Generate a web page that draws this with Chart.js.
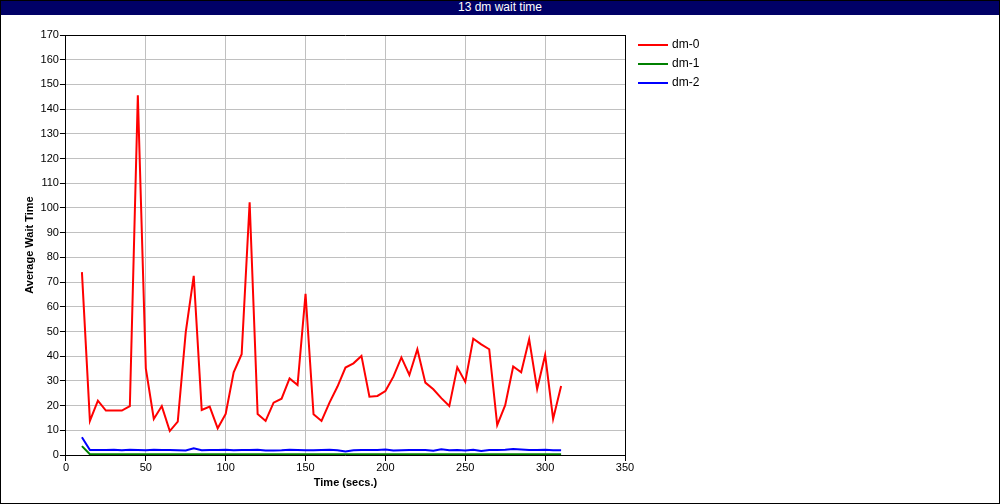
<!DOCTYPE html>
<html>
<head>
<meta charset="utf-8">
<script src="https://cdn.jsdelivr.net/npm/chart.js@4.4.1/dist/chart.umd.min.js"></script>
<style>
  html, body { margin: 0; padding: 0; background: #fff; }
  #wrap { position: relative; width: 1000px; height: 504px; overflow: hidden; background: #fff; }
  #c { position: absolute; left: 0; top: 0; }
  #title { position: absolute; left: 0; top: 0; width: 1000px; height: 15px; background: #000066; color: #fff;
           font: 12px "Liberation Sans", Arial, sans-serif; line-height: 15px; text-align: center; white-space: nowrap; }
  #frame { position: absolute; left: 0; top: 0; width: 1000px; height: 504px; box-sizing: border-box; border: 1px solid #000; pointer-events: none; }
  #legend { position: absolute; left: 638px; top: 35px; font: 12px "Liberation Sans", Arial, sans-serif; color: #000; }
  #legend .item { height: 19px; line-height: 19px; display: flex; align-items: center; white-space: nowrap; }
  #legend .swatch { width: 30px; height: 2px; margin-right: 4px; }
</style>
</head>
<body>
<div id="wrap">
  <canvas id="c" width="1000" height="504"></canvas>
  <div id="title"></div>
  <div id="legend"></div>
  <div id="frame"></div>
</div>
<script>
const chartTitle = '13 dm wait time';
const xTitle = 'Time (secs.)';
const yTitle = 'Average Wait Time';
const seriesNames = ['dm-0', 'dm-1', 'dm-2'];
const seriesColors = ['#ff0000', '#008000', '#0000ff'];

const times = [10, 15, 20, 25, 30, 35, 40, 45, 50, 55, 60, 65, 70, 75, 80, 85, 90, 95, 100, 105,
  110, 115, 120, 125, 130, 135, 140, 145, 150, 155, 160, 165, 170, 175, 180, 185, 190, 195, 200, 205,
  210, 215, 220, 225, 230, 235, 240, 245, 250, 255, 260, 265, 270, 275, 280, 285, 290, 295, 300, 305, 310];

const dm0 = [74.0, 13.8, 22.0, 18.0, 18.0, 18.0, 19.8, 145.6, 35.1, 14.6, 19.8, 9.7, 13.5, 49.7, 72.5, 18.2, 19.6, 10.8, 16.6, 33.5,
  40.8, 102.3, 16.6, 13.8, 21.2, 22.8, 31.0, 28.3, 65.2, 16.5, 13.8, 21.2, 27.7, 35.4, 37.1, 40.1, 23.6, 23.9, 25.9, 31.7,
  39.5, 32.4, 42.8, 29.3, 26.6, 23.0, 19.8, 35.5, 29.6, 47.1, 44.8, 42.8, 12.1, 20.2, 35.8, 33.5, 46.8, 26.7, 40.5, 14.6, 27.9];

const dm1 = [3.6, 0.3, 0.3, 0.3, 0.3, 0.3, 0.3, 0.3, 0.3, 0.3, 0.3, 0.3, 0.3, 0.3, 0.3, 0.3, 0.3, 0.3, 0.3, 0.3,
  0.3, 0.3, 0.3, 0.3, 0.3, 0.3, 0.3, 0.3, 0.3, 0.3, 0.3, 0.3, 0.3, 0.3, 0.3, 0.3, 0.3, 0.3, 0.3, 0.3,
  0.3, 0.3, 0.3, 0.3, 0.3, 0.3, 0.3, 0.3, 0.3, 0.3, 0.3, 0.3, 0.3, 0.3, 0.3, 0.3, 0.3, 0.3, 0.3, 0.3, 0.3];

const dm2 = [7.2, 2.0, 2.0, 2.0, 2.1, 1.9, 2.1, 2.0, 1.9, 2.1, 2.0, 2.0, 1.9, 1.8, 2.7, 1.9, 2.0, 2.0, 2.1, 1.9,
  2.0, 2.0, 2.1, 1.8, 1.8, 1.9, 2.1, 2.0, 1.9, 1.9, 2.0, 2.1, 1.9, 1.4, 1.9, 2.0, 2.0, 2.0, 2.2, 1.8,
  1.9, 2.0, 2.0, 2.0, 1.7, 2.3, 1.9, 2.0, 1.8, 2.1, 1.6, 2.0, 2.0, 2.1, 2.4, 2.2, 2.0, 2.0, 2.1, 1.9, 1.9];

const xTicks = { min: 0, max: 350, step: 50 };
const yTicks = { min: 0, max: 170, step: 10 };

const FONT = '"Liberation Sans", Arial, Helvetica, sans-serif';
const GRID = '#c0c0c0';

document.getElementById('title').textContent = chartTitle;

function toPoints(ys) { return times.map((t, i) => ({ x: t, y: ys[i] })); }

const allSeries = [dm0, dm1, dm2];
const datasets = allSeries.map((ys, i) => ({
  label: seriesNames[i],
  data: toPoints(ys),
  borderColor: seriesColors[i],
  backgroundColor: seriesColors[i],
  borderWidth: 2,
  pointRadius: 0,
  pointHoverRadius: 0,
  tension: 0,
  fill: false
}));

const htmlLegend = {
  id: 'htmlLegend',
  afterUpdate(chart) {
    const box = document.getElementById('legend');
    box.innerHTML = '';
    chart.data.datasets.forEach(ds => {
      const item = document.createElement('div');
      item.className = 'item';
      const sw = document.createElement('span');
      sw.className = 'swatch';
      sw.style.background = ds.borderColor;
      const tx = document.createElement('span');
      tx.textContent = ds.label;
      item.appendChild(sw);
      item.appendChild(tx);
      box.appendChild(item);
    });
  }
};

new Chart(document.getElementById('c'), {
  type: 'line',
  data: { datasets },
  plugins: [htmlLegend],
  options: {
    responsive: false,
    animation: false,
    devicePixelRatio: 1,
    layout: { padding: { left: 19.4, right: 375, top: 35, bottom: 14.6 } },
    plugins: {
      legend: { display: false },
      tooltip: { enabled: false },
      title: { display: false }
    },
    scales: {
      x: {
        type: 'linear',
        min: xTicks.min,
        max: xTicks.max,
        ticks: { stepSize: xTicks.step, color: '#000', font: { family: FONT, size: 11 }, padding: 0, maxRotation: 0 },
        grid: {
          color: c => (c.tick && c.tick.value === xTicks.max) ? '#000' : GRID,
          lineWidth: 1,
          tickLength: 6,
          tickColor: '#000'
        },
        border: { display: true, color: '#000', width: 1 },
        title: {
          display: true, text: xTitle, color: '#000',
          font: { family: FONT, size: 11, weight: 'bold' },
          padding: { top: 2, bottom: 0 }
        }
      },
      y: {
        type: 'linear',
        min: yTicks.min,
        max: yTicks.max,
        ticks: { stepSize: yTicks.step, color: '#000', font: { family: FONT, size: 11 }, padding: 1 },
        grid: {
          color: c => (c.tick && c.tick.value === yTicks.max) ? '#000' : GRID,
          lineWidth: 1,
          tickLength: 6,
          tickColor: '#000'
        },
        border: { display: true, color: '#000', width: 1 },
        title: {
          display: true, text: yTitle, color: '#000',
          font: { family: FONT, size: 11, weight: 'bold' },
          padding: { top: 4, bottom: 3 }
        }
      }
    }
  }
});
</script>
</body>
</html>
